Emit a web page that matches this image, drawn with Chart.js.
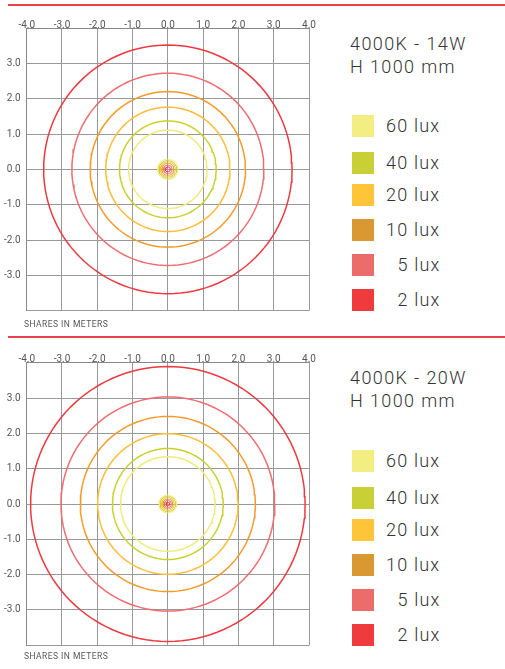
<!DOCTYPE html>
<html><head><meta charset="utf-8">
<script src="https://cdn.jsdelivr.net/npm/chart.js@4.4.0/dist/chart.umd.min.js"></script>
<style>
body{margin:0;background:#fff;width:505px;height:669px;overflow:hidden;position:relative;font-family:Roboto,sans-serif;}
.rule{position:absolute;left:8px;width:497px;height:2px;background:#e8434a;}
canvas{position:absolute;left:0;}
.unit{position:absolute;left:24px;font-size:8.5px;line-height:10px;color:#555;letter-spacing:0.45px;white-space:nowrap;}
.title{position:absolute;left:350px;font-size:18px;font-weight:300;line-height:23.4px;color:#333;letter-spacing:1.4px;white-space:nowrap;}
.sw{position:absolute;left:352px;width:22px;height:22px;}
.lab{position:absolute;font-size:18px;font-weight:300;color:#333;letter-spacing:1.2px;line-height:22px;white-space:nowrap;}
</style></head><body>
<div class="rule" style="top:4px"></div>
<div class="rule" style="top:336px"></div>
<canvas id="c1" width="330" height="335" style="top:0px"></canvas>
<canvas id="c2" width="330" height="334" style="top:335px"></canvas>
<div class="unit" style="top:319px">SHARES IN METERS</div>
<div class="unit" style="top:651px">SHARES IN METERS</div>
<div id="leg"></div>
<script>
// ---- data ----
const luxLabels = ['60 lux','40 lux','20 lux','10 lux','5 lux','2 lux'];
const legendColors = ['#F2EE82','#C8D035','#FEC538','#D99832','#EC6B6B','#EF3B3D'];
const contourColors = ['#EFEB7C','#C8D22E','#FBBE3A','#F39B2B','#EE6D71','#EC3A40'];
const radii14W = [1.11, 1.37, 1.76, 2.20, 2.72, 3.52];
const radii20W = [1.34, 1.57, 1.99, 2.48, 3.03, 3.89];
const centerRadii14W = [0.29, 0.25, 0.21, 0.17, 0.12, 0.07];
const centerRadii20W = [0.25, 0.22, 0.18, 0.14, 0.10, 0.05];
const gridValues = [-4, -3, -2, -1, 0, 1, 2, 3, 4];
const yLabelValues = [-3, -2, -1, 0, 1, 2, 3];
const titles14W = ['4000K - 14W', 'H 1000 mm'];
const titles20W = ['4000K - 20W', 'H 1000 mm'];

// ---- helpers ----
function circle(r){
  const pts = [];
  const n = 120;
  for (let i = 0; i <= n; i++){
    const a = 2*Math.PI*i/n;
    pts.push({x: r*Math.cos(a), y: r*Math.sin(a)});
  }
  return pts;
}

function makeChart(id, radii, centerRadii, topH, bottomPad){
  const datasets = [];
  radii.forEach((r,i)=>datasets.push({label:luxLabels[i], data:circle(r), borderColor:contourColors[i],
    borderWidth:1.5, showLine:true, pointRadius:0, fill:false, tension:0}));
  centerRadii.forEach((r,i)=>datasets.push({label:luxLabels[i]+' centre', data:circle(r), borderColor:contourColors[i],
    borderWidth:1, showLine:true, pointRadius:0, fill:false, tension:0}));
  const tickFont = {family:'Roboto', size:10};
  new Chart(document.getElementById(id), {
    type:'scatter',
    data:{datasets},
    options:{
      responsive:false, animation:false, events:[],
      layout:{padding:{left:0, right:21, top:0, bottom:bottomPad}},
      plugins:{legend:{display:false}, tooltip:{enabled:false}},
      scales:{
        x:{type:'linear', position:'top', min:-4, max:4,
          afterBuildTicks:s=>{s.ticks = gridValues.map(v=>({value:v}));},
          afterFit:s=>{s.height = topH;},
          ticks:{callback:v=>Number(v).toFixed(1), font:tickFont, color:'#555', padding:-3, maxRotation:0, autoSkip:false},
          grid:{color:'#999', lineWidth:1, drawTicks:false},
          border:{color:'#888', width:1}
        },
        y:{type:'linear', position:'left', min:-4, max:4,
          afterBuildTicks:s=>{s.ticks = gridValues.map(v=>({value:v}));},
          afterFit:s=>{s.width = 26.7;},
          ticks:{callback:v=>yLabelValues.includes(v) ? Number(v).toFixed(1) : '', font:tickFont, color:'#555', padding:6, autoSkip:false},
          grid:{color:'#999', lineWidth:1, drawTicks:false},
          border:{color:'#888', width:1}
        }
      }
    }
  });
}

makeChart('c1', radii14W, centerRadii14W, 28, 24.3);
makeChart('c2', radii20W, centerRadii20W, 27.7, 23.7);

// ---- legends (HTML text) ----
const itemOffsets = [0, 37, 69, 104, 139, 174];
function makeLegend(titles, titleTop, swTop){
  const leg = document.getElementById('leg');
  const t = document.createElement('div');
  t.className = 'title';
  t.style.top = titleTop + 'px';
  t.innerHTML = titles.join('<br>');
  leg.appendChild(t);
  luxLabels.forEach((lab,i)=>{
    const sw = document.createElement('div');
    sw.className = 'sw';
    sw.style.top = (swTop + itemOffsets[i]) + 'px';
    sw.style.background = legendColors[i];
    leg.appendChild(sw);
    const l = document.createElement('div');
    l.className = 'lab';
    l.style.top = (swTop + itemOffsets[i]) + 'px';
    l.style.left = (lab.length < 6 ? 397.5 : 386) + 'px';
    l.textContent = lab;
    leg.appendChild(l);
  });
}
makeLegend(titles14W, 31.6, 115);
makeLegend(titles20W, 365.6, 450);
</script>
</body></html>
